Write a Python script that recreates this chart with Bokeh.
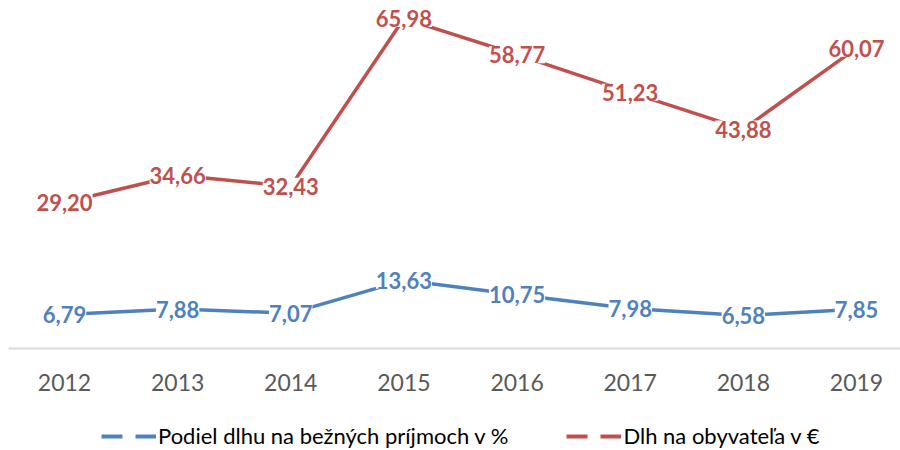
from bokeh.plotting import figure
from bokeh.models import ColumnDataSource, LabelSet, Range1d, FixedTicker, Legend, LegendItem
from bokeh.core.properties import value
from bokeh.embed import file_html
from bokeh.resources import INLINE

years = ["2012", "2013", "2014", "2015", "2016", "2017", "2018", "2019"]
podiel = [6.79, 7.88, 7.07, 13.63, 10.75, 7.98, 6.58, 7.85]
dlh = [29.20, 34.66, 32.43, 65.98, 58.77, 51.23, 43.88, 60.07]
name_podiel = "Podiel dlhu na bežných príjmoch v %"
name_dlh = "Dlh na obyvateľa v €"

BLUE = "#4F81BD"
RED = "#C0504D"
FONT = "Lato"

idx = list(range(len(years)))
def fmt(v):
    return f"{v:.2f}".replace(".", ",")

src_b = ColumnDataSource(dict(x=idx, y=podiel, t=[fmt(v) for v in podiel]))
src_r = ColumnDataSource(dict(x=idx, y=dlh, t=[fmt(v) for v in dlh]))

p = figure(frame_width=892, frame_height=442, output_backend="svg", toolbar_location=None,
           x_range=Range1d(-0.495, 7.389), y_range=Range1d(-20.4, 68.0),
           min_border_left=8, min_border_right=0, min_border_top=8, min_border_bottom=0)
p.outline_line_color = None
p.grid.visible = False
p.yaxis.visible = False

p.line("x", "y", source=src_b, line_color=BLUE, line_width=3.5)
p.line("x", "y", source=src_r, line_color=RED, line_width=3.5)

for src, col in ((src_b, BLUE), (src_r, RED)):
    lab = LabelSet(x="x", y="y", text="t", source=src, text_align="center", text_baseline="middle",
                   text_font=value(FONT), text_font_size=value("22px"), text_font_style="bold",
                   text_color=col, background_fill_color="white")
    p.add_layout(lab)

xa = p.xaxis[0]
xa.fixed_location = 0
xa.ticker = FixedTicker(ticks=idx)
xa.major_label_overrides = {i: y for i, y in zip(idx, years)}
xa.axis_line_color = "#D9D9D9"
xa.axis_line_width = 2
xa.major_tick_line_color = None
xa.minor_tick_line_color = None
xa.major_tick_out = 0
xa.major_tick_in = 0
xa.major_label_standoff = 25
xa.major_label_text_font = FONT
xa.major_label_text_font_size = "23px"
xa.major_label_text_color = "#595959"

nan = float("nan")
dummy_b = p.line(x=[nan], y=[nan], line_color=BLUE, line_width=4, line_dash="21 13")
dummy_r = p.line(x=[nan], y=[nan], line_color=RED, line_width=4, line_dash="21 13")
legend = Legend(items=[LegendItem(label=name_podiel, renderers=[dummy_b]),
                       LegendItem(label=name_dlh, renderers=[dummy_r])],
                orientation="horizontal", location=(93, 1),
                glyph_width=55, glyph_height=20, label_standoff=2, spacing=58,
                label_text_font=FONT, label_text_font_size="22px", label_text_color="#000000",
                border_line_color=None, background_fill_alpha=0, padding=0, margin=0)
p.add_layout(legend, "center")

open("out.html", "w").write(file_html(p, INLINE))
